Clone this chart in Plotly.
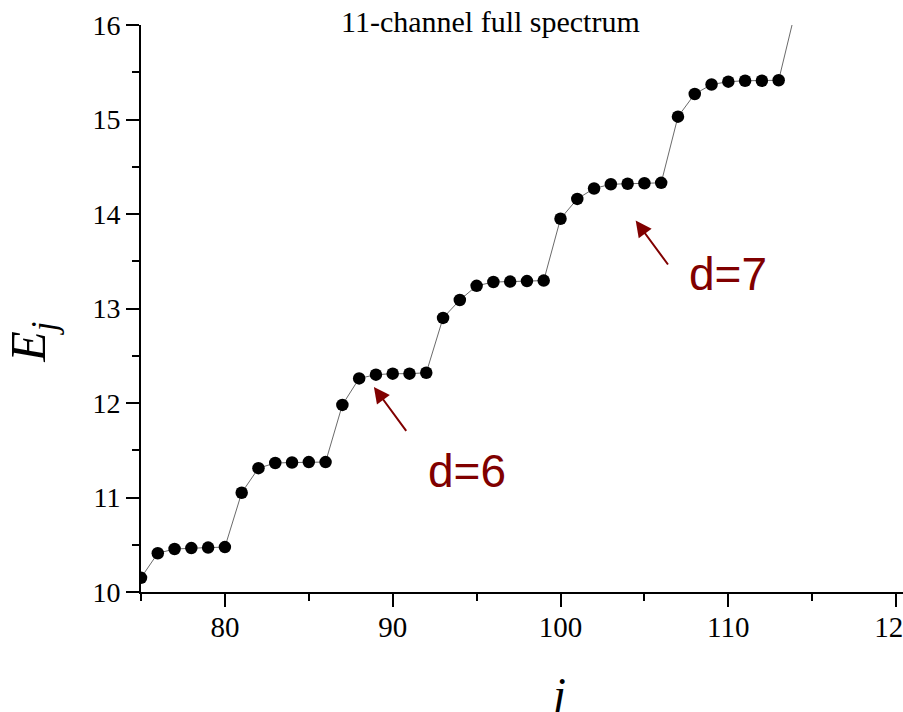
import plotly.graph_objects as go

# ---- data ----
j_values = list(range(75, 115))
E_values = [
    10.15, 10.41, 10.455, 10.465, 10.47, 10.475,
    11.05, 11.31, 11.365, 11.37, 11.375, 11.375,
    11.98, 12.26, 12.30, 12.31, 12.31, 12.32,
    12.90, 13.09, 13.24, 13.28, 13.285, 13.29, 13.295,
    13.95, 14.16, 14.27, 14.315, 14.32, 14.325, 14.33,
    15.03, 15.27, 15.37, 15.40, 15.41, 15.41, 15.415,
    16.15,
]
title_text = "11-channel full spectrum"
labels = ["d=6", "d=7"]
label_pos = [(94.40, 11.28), (109.96, 13.36)]
arrow_tips = [(88.88, 12.17), (104.48, 13.93)]

DARKRED = "#800000"
SERIF = "Liberation Serif"

fig = go.Figure()
fig.add_trace(go.Scatter(
    x=j_values, y=E_values, mode="lines+markers",
    line=dict(color="#444444", width=0.8),
    marker=dict(color="black", size=12.5),
    cliponaxis=True, showlegend=False,
))

axis_common = dict(
    showline=True, linecolor="black", linewidth=2,
    ticks="outside", ticklen=13, tickwidth=2, tickcolor="black",
    showgrid=False, zeroline=False, automargin=False,
)

fig.update_xaxes(
    range=[75, 120.41], dtick=10, tick0=0,
    tickfont=dict(family=SERIF, size=29, color="black"),
    minor=dict(ticks="outside", ticklen=7, tickwidth=2, dtick=5, tick0=0, tickcolor="black"),
    ticklabeloverflow="allow", ticklabelstandoff=-5,
    **axis_common,
)
fig.update_yaxes(
    range=[10, 16], dtick=1, tick0=0,
    tickfont=dict(family=SERIF, size=28, color="black"),
    minor=dict(ticks="outside", ticklen=7, tickwidth=2, dtick=0.5, tick0=0, tickcolor="black"),
    **axis_common,
)

annotations = []
for (tx, ty) in arrow_tips:
    annotations.append(dict(
        x=tx, y=ty, xref="x", yref="y", text="", showarrow=True,
        ax=33.4, ay=45.4, arrowhead=2, arrowsize=1.6, arrowwidth=2,
        arrowcolor=DARKRED, standoff=0,
    ))
for lab, (lx, ly) in zip(labels, label_pos):
    annotations.append(dict(
        x=lx, y=ly, xref="x", yref="y", text=lab, showarrow=False,
        font=dict(family="Liberation Sans", size=46, color=DARKRED),
        xanchor="center", yanchor="middle",
    ))
# title
annotations.append(dict(
    x=0.4593, y=1.0070, xref="paper", yref="paper", text=title_text,
    showarrow=False, font=dict(family=SERIF, size=30, color="black"),
    xanchor="center", yanchor="middle",
))
# y axis title
annotations.append(dict(
    x=-0.143, y=0.4396, xref="paper", yref="paper",
    text="<i>E</i><sub><i>j</i></sub>", textangle=-90,
    showarrow=False, font=dict(family=SERIF, size=50, color="black"),
    xanchor="center", yanchor="middle",
))
# x axis title
annotations.append(dict(
    x=0.546, y=-0.18, xref="paper", yref="paper",
    text="<i>j</i>", showarrow=False,
    font=dict(family=SERIF, size=46, color="black"),
    xanchor="center", yanchor="middle",
))

fig.update_layout(
    width=903, height=712,
    margin=dict(l=141, r=0, t=25, b=119.5, pad=0, autoexpand=False),
    plot_bgcolor="white", paper_bgcolor="white",
    annotations=annotations,
)

fig.write_html("out.html")
